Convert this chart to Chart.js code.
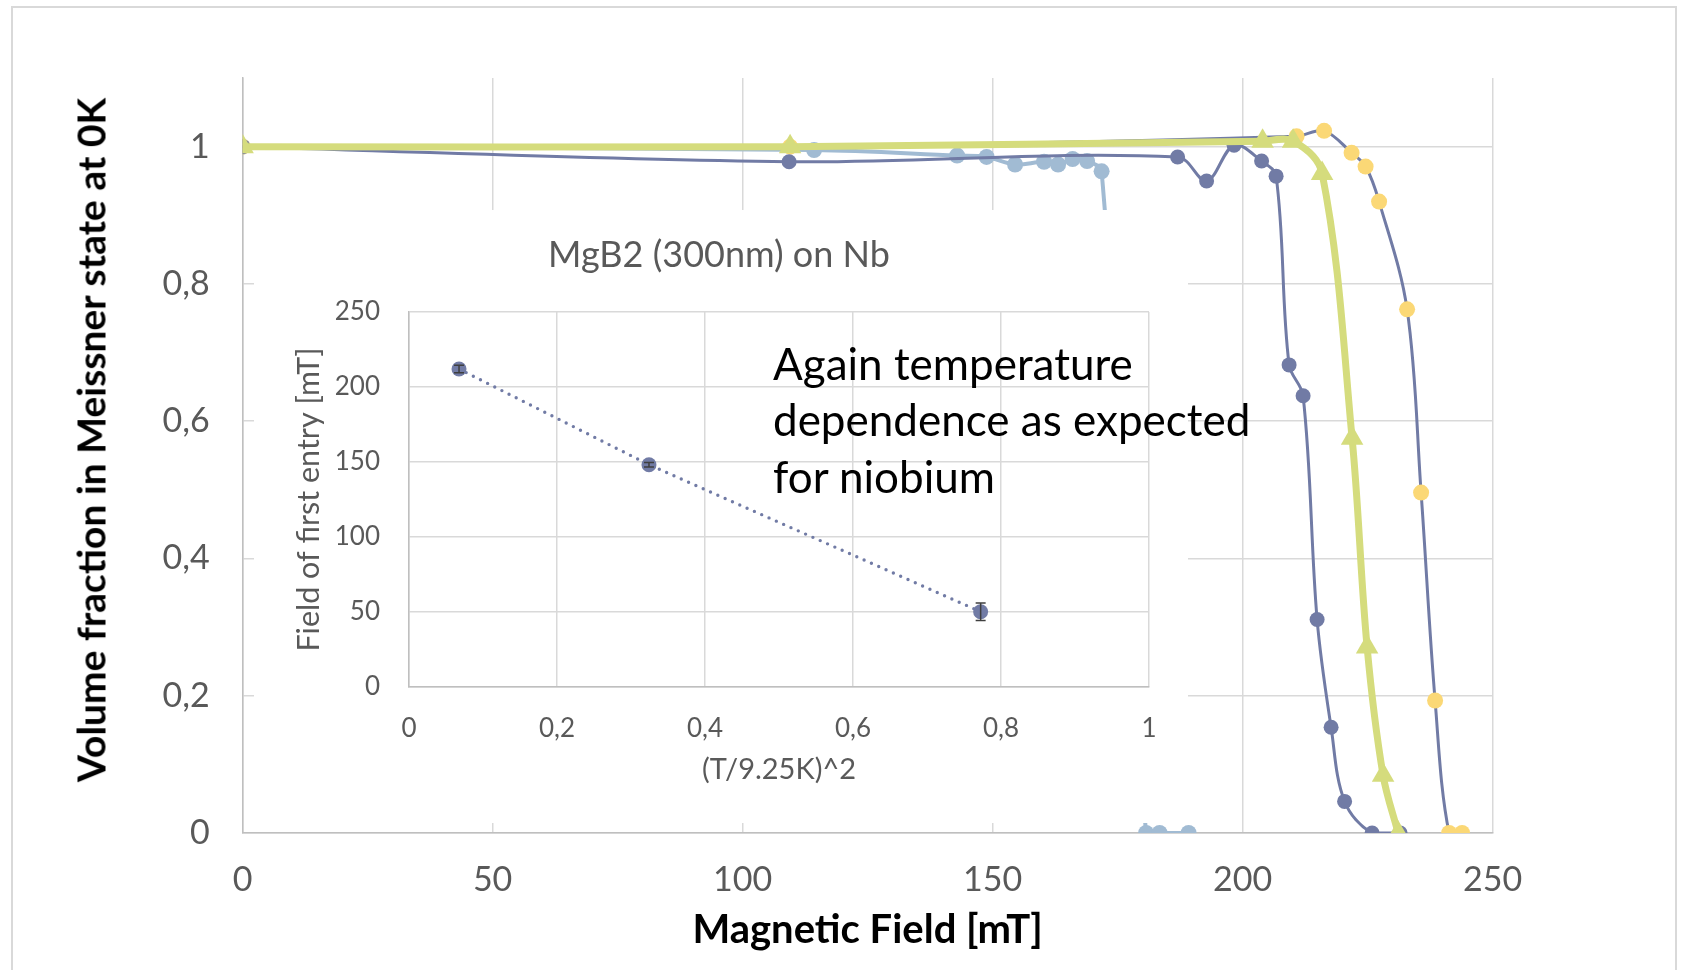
<!DOCTYPE html>
<html lang="en">
<head>
<meta charset="UTF-8">
<title>Meissner volume fraction vs. field</title>
<script src="https://cdn.jsdelivr.net/npm/chart.js"></script>
<style>
  html, body { margin: 0; padding: 0; background: #fff; }
  body { width: 1681px; height: 970px; position: relative; overflow: hidden; font-family: Lato, sans-serif; }
  .frame { position: absolute; left: 11px; top: 6px; width: 1666px; height: 990px; border: 2px solid #d9d9d9; box-sizing: border-box; }
  #mainChart { position: absolute; left: 0; top: 0; }
  .ytitle { position: absolute; left: 91px; top: 440px; transform: translate(-50%, -50%) rotate(-90deg);
            font-size: 39px; font-weight: bold; color: #000; white-space: nowrap; line-height: 1; }
  .inset { position: absolute; left: 254px; top: 210px; width: 934px; height: 613px; background: #fff; }
  #insetChart { position: absolute; left: 35px; top: 0; }
  .note { position: absolute; left: 773px; top: 334.6px; font-size: 44px; line-height: 56.7px; color: #000; white-space: nowrap; }
</style>
</head>
<body>
<div class="frame"></div>
<canvas id="mainChart" width="1681" height="970"></canvas>
<div class="ytitle">Volume fraction in Meissner state at 0K</div>
<div class="inset"><canvas id="insetChart" width="895" height="613"></canvas></div>
<div class="note">Again temperature<br>dependence as expected<br>for niobium</div>

<script>
// main plot: volume fraction vs applied field, four runs
const fieldTicks = [0, 50, 100, 150, 200, 250];
const fracTicks = [0, 0.2, 0.4, 0.6, 0.8, 1];

const fieldGreen = [0, 109.5, 204.0, 210.1, 215.9, 221.9, 224.9, 228.1, 231.1];
const fracGreen  = [1, 1.0, 1.008, 1.008, 0.961, 0.575, 0.271, 0.084, 0];

const fieldSlate = [0, 109.3, 187.0, 192.8, 198.3, 203.8, 206.7, 209.3, 212.1, 214.9, 217.7, 220.4, 225.9, 231.5];
const fracSlate  = [1, 0.978, 0.985, 0.950, 1.002, 0.979, 0.957, 0.682, 0.637, 0.311, 0.154, 0.046, 0, 0];

const fieldYellow = [0, 109.5, 210.8, 216.3, 221.8, 224.6, 227.3, 232.9, 235.7, 238.5, 241.3, 243.9];
const fracYellow  = [1, 1.0, 1.015, 1.023, 0.991, 0.971, 0.920, 0.763, 0.496, 0.193, 0, 0];

const fieldBlue = [0, 114.3, 142.9, 148.8, 154.5, 160.3, 163.1, 166.0, 168.9, 171.8, 180.7, 183.4, 189.2];
const fracBlue  = [1, 0.995, 0.987, 0.985, 0.974, 0.978, 0.974, 0.982, 0.979, 0.964, 0, 0, 0];

// inset: field of first entry vs (T/Tc)^2
const insetXTicks = [0, 0.2, 0.4, 0.6, 0.8, 1];
const insetYTicks = [0, 50, 100, 150, 200, 250];
const tempSq = [0.0676, 0.3243, 0.7725];
const entryField = [212, 148.2, 50.2];
const entryErr = [2.5, 1.5, 5.8];

const SLATE = '#717ba5';
const GREEN = '#d5dc7d';
const YELLOW = '#fbd876';
const LIGHTBLUE = '#a1bbd3';
const GRID = '#d9d9d9';
const AXIS = '#bfbfbf';
const LABEL = '#595959';

Chart.defaults.font.family = 'Lato, sans-serif';
Chart.defaults.animation = false;

const toXY = (xs, ys) => xs.map((x, i) => ({ x: x, y: ys[i] }));
const comma = v => String(v).replace('.', ',');

new Chart(document.getElementById('mainChart'), {
  type: 'line',
  data: {
    datasets: [
      { data: toXY(fieldGreen, fracGreen), borderColor: GREEN, borderWidth: 7,
        pointStyle: 'triangle', pointRadius: 13, pointBackgroundColor: GREEN, pointBorderWidth: 0, tension: 0.35 },
      { data: toXY(fieldSlate, fracSlate), borderColor: SLATE, borderWidth: 3,
        pointRadius: 7.5, pointBackgroundColor: SLATE, pointBorderWidth: 0, tension: 0.35 },
      { data: toXY(fieldYellow, fracYellow), borderColor: SLATE, borderWidth: 3,
        pointRadius: 8, pointBackgroundColor: YELLOW, pointBorderWidth: 0, tension: 0.35 },
      { data: toXY(fieldBlue, fracBlue), borderColor: LIGHTBLUE, borderWidth: 4,
        pointRadius: 8, pointBackgroundColor: LIGHTBLUE, pointBorderWidth: 0, tension: 0.35 }
    ]
  },
  options: {
    responsive: false,
    layout: { padding: { left: 0, top: 78, right: 188.4, bottom: 0 } },
    plugins: { legend: { display: false }, tooltip: { enabled: false } },
    scales: {
      x: {
        type: 'linear', min: 0, max: 250,
        afterBuildTicks: s => { s.ticks = fieldTicks.map(v => ({ value: v })); },
        afterFit: s => { s.height = 137; },
        grid: { color: GRID, lineWidth: 1.5, drawTicks: false },
        border: { color: AXIS, width: 1.5 },
        ticks: { padding: 27, color: LABEL, font: { size: 34 } },
        title: { display: true, text: 'Magnetic Field [mT]', color: '#000',
                 font: { size: 40, weight: 'bold' }, padding: { top: 0, bottom: 16 } }
      },
      y: {
        type: 'linear', min: 0, max: 1.1,
        afterBuildTicks: s => { s.ticks = fracTicks.map(v => ({ value: v })); },
        afterFit: s => { s.width = 242.6; },
        grid: { color: GRID, lineWidth: 1.5, drawTicks: false },
        border: { color: AXIS, width: 1.5 },
        ticks: { padding: 33, color: LABEL, font: { size: 34 }, callback: v => comma(v) }
      }
    }
  }
});

// vertical error bars for the inset points
const errorBars = {
  id: 'errorBars',
  afterDatasetsDraw(chart) {
    const { ctx, scales: { x, y } } = chart;
    ctx.save();
    ctx.strokeStyle = '#3f3f3f';
    ctx.lineWidth = 1.5;
    tempSq.forEach((t, i) => {
      const px = x.getPixelForValue(t);
      const top = y.getPixelForValue(entryField[i] + entryErr[i]);
      const bot = y.getPixelForValue(entryField[i] - entryErr[i]);
      ctx.beginPath();
      ctx.moveTo(px, top); ctx.lineTo(px, bot);
      ctx.moveTo(px - 5, top); ctx.lineTo(px + 5, top);
      ctx.moveTo(px - 5, bot); ctx.lineTo(px + 5, bot);
      ctx.stroke();
    });
    ctx.restore();
  }
};

new Chart(document.getElementById('insetChart'), {
  type: 'line',
  data: {
    datasets: [{
      data: toXY(tempSq, entryField), borderColor: SLATE, borderWidth: 3.4,
      borderDash: [0, 8], borderCapStyle: 'round',
      pointRadius: 7.5, pointBackgroundColor: SLATE, pointBorderWidth: 0
    }]
  },
  options: {
    responsive: false,
    layout: { padding: { left: 0, top: 0, right: 35, bottom: 0 } },
    plugins: {
      legend: { display: false }, tooltip: { enabled: false },
      title: { display: true, text: 'MgB2 (300nm) on Nb', color: LABEL,
               font: { size: 36, weight: 'normal' }, padding: { top: 23.4, bottom: 35.4 } }
    },
    scales: {
      x: {
        type: 'linear', min: 0, max: 1,
        afterBuildTicks: s => { s.ticks = insetXTicks.map(v => ({ value: v })); },
        afterFit: s => { s.height = 136; },
        grid: { color: GRID, lineWidth: 1.5, drawTicks: false },
        border: { color: AXIS, width: 1.5 },
        ticks: { padding: 26, color: LABEL, font: { size: 26 }, callback: v => comma(v) },
        title: { display: true, text: '(T/9.25K)^2', color: LABEL,
                 font: { size: 29 }, padding: { top: 0, bottom: 35.6 } }
      },
      y: {
        type: 'linear', min: 0, max: 250,
        afterBuildTicks: s => { s.ticks = insetYTicks.map(v => ({ value: v })); },
        afterFit: s => { s.width = 120; },
        grid: { color: GRID, lineWidth: 1.5, drawTicks: false },
        border: { color: AXIS, width: 1.5 },
        ticks: { padding: 29, color: LABEL, font: { size: 26 } },
        title: { display: true, text: 'Field of first entry [mT]', color: LABEL,
                 font: { size: 30.5 }, padding: { top: 1.7, bottom: 0 } }
      }
    }
  },
  plugins: [errorBars]
});
</script>
</body>
</html>
